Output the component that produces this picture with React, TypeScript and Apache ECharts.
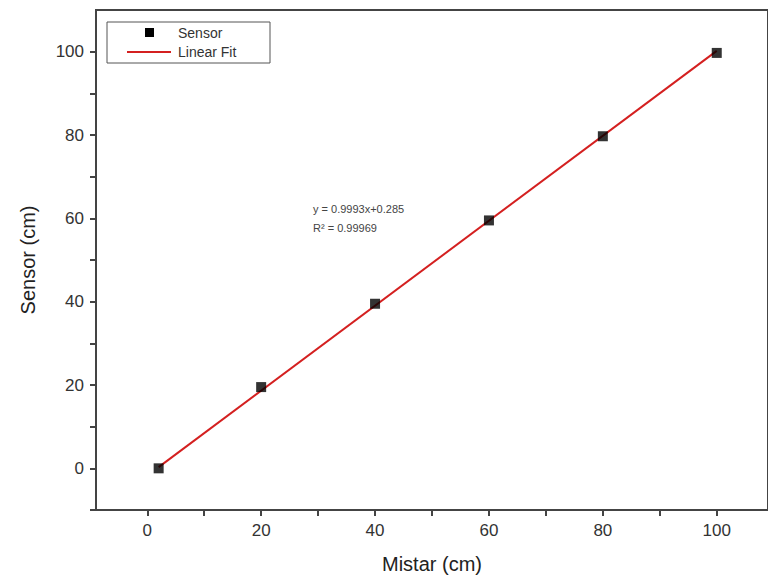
import React, { useEffect, useRef } from "react";
import * as echarts from "echarts";

const mistar = [2, 20, 40, 60, 80, 100];
const sensor = [0, 19.5, 39.5, 59.5, 79.7, 99.7];
const fitX = [2, 100];
const fitY = [0.3, 100.2];
const fitText = ["y = 0.9993x+0.285", "R² = 0.99969"];
const majorTicks = [0, 20, 40, 60, 80, 100];
const allTicks = [0, 10, 20, 30, 40, 50, 60, 70, 80, 90, 100];
const legendNames = ["Sensor", "Linear Fit"];

export default function App() {
  const ref = useRef<HTMLDivElement>(null);
  useEffect(() => {
    const chart = echarts.init(ref.current!, null, { renderer: "svg" });
    const font = "Liberation Sans, Arial";
    const axisCommon = {
      axisLine: { onZero: false, lineStyle: { color: "#444", width: 2 } },
      axisTick: { inside: false, length: 6, lineStyle: { color: "#444", width: 2 } },
      minorTick: { show: false },
      splitLine: { show: false },
      axisLabel: { color: "#333", fontSize: 17, fontFamily: font, margin: 12, customValues: majorTicks },
      nameTextStyle: { color: "#222", fontSize: 20, fontFamily: font },
    };
    chart.setOption({
      animation: false,
      backgroundColor: "#fff",
      grid: { left: 96, top: 10, right: -4, bottom: 71, show: true, borderColor: "#444", borderWidth: 2 },
      xAxis: {
        type: "value",
        min: -9,
        max: 109,
        name: "Mistar (cm)",
        nameLocation: "middle",
        nameGap: 44,
        ...axisCommon,
        axisTick: { ...axisCommon.axisTick, customValues: allTicks },
      },
      yAxis: {
        type: "value",
        min: -10,
        max: 110,
        name: "Sensor (cm)",
        nameLocation: "middle",
        nameGap: 58,
        ...axisCommon,
        axisTick: { ...axisCommon.axisTick, customValues: [-10, ...allTicks] },
      },
      series: [
        {
          name: legendNames[0],
          type: "scatter",
          symbol: "rect",
          symbolSize: 10,
          itemStyle: { color: "#000" },
          z: 3,
          data: mistar.map((x, i) => [x, sensor[i]]),
        },
        {
          name: legendNames[1],
          type: "line",
          symbol: "none",
          lineStyle: { color: "#d42020", width: 2 },
          itemStyle: { color: "#d42020" },
          z: 2,
          data: fitX.map((x, i) => [x, fitY[i]]),
        },
      ],
      graphic: [
        {
          type: "rect",
          shape: { x: 107, y: 22, width: 163, height: 41 },
          style: { fill: "#fff", stroke: "#555", lineWidth: 1 },
          z: 10,
        },
        {
          type: "rect",
          shape: { x: 145, y: 28, width: 9, height: 9 },
          style: { fill: "#000" },
          z: 11,
        },
        {
          type: "line",
          shape: { x1: 127, y1: 52, x2: 171, y2: 52 },
          style: { stroke: "#d42020", lineWidth: 2 },
          z: 11,
        },
        {
          type: "text",
          x: 178,
          y: 33,
          style: { text: legendNames[0], fill: "#333", fontSize: 14, fontFamily: font, verticalAlign: "middle" },
          z: 11,
        },
        {
          type: "text",
          x: 178,
          y: 52,
          style: { text: legendNames[1], fill: "#333", fontSize: 14, fontFamily: font, verticalAlign: "middle" },
          z: 11,
        },
        {
          type: "text",
          left: 313,
          top: 199,
          style: {
            text: fitText.join("\n"),
            fill: "#444",
            fontSize: 11,
            lineHeight: 19,
            fontFamily: font,
          },
        },
      ],
    });
    return () => chart.dispose();
  }, []);
  return <div ref={ref} style={{ width: 768, height: 581, position: "absolute", left: 0, top: 0 }} />;
}
